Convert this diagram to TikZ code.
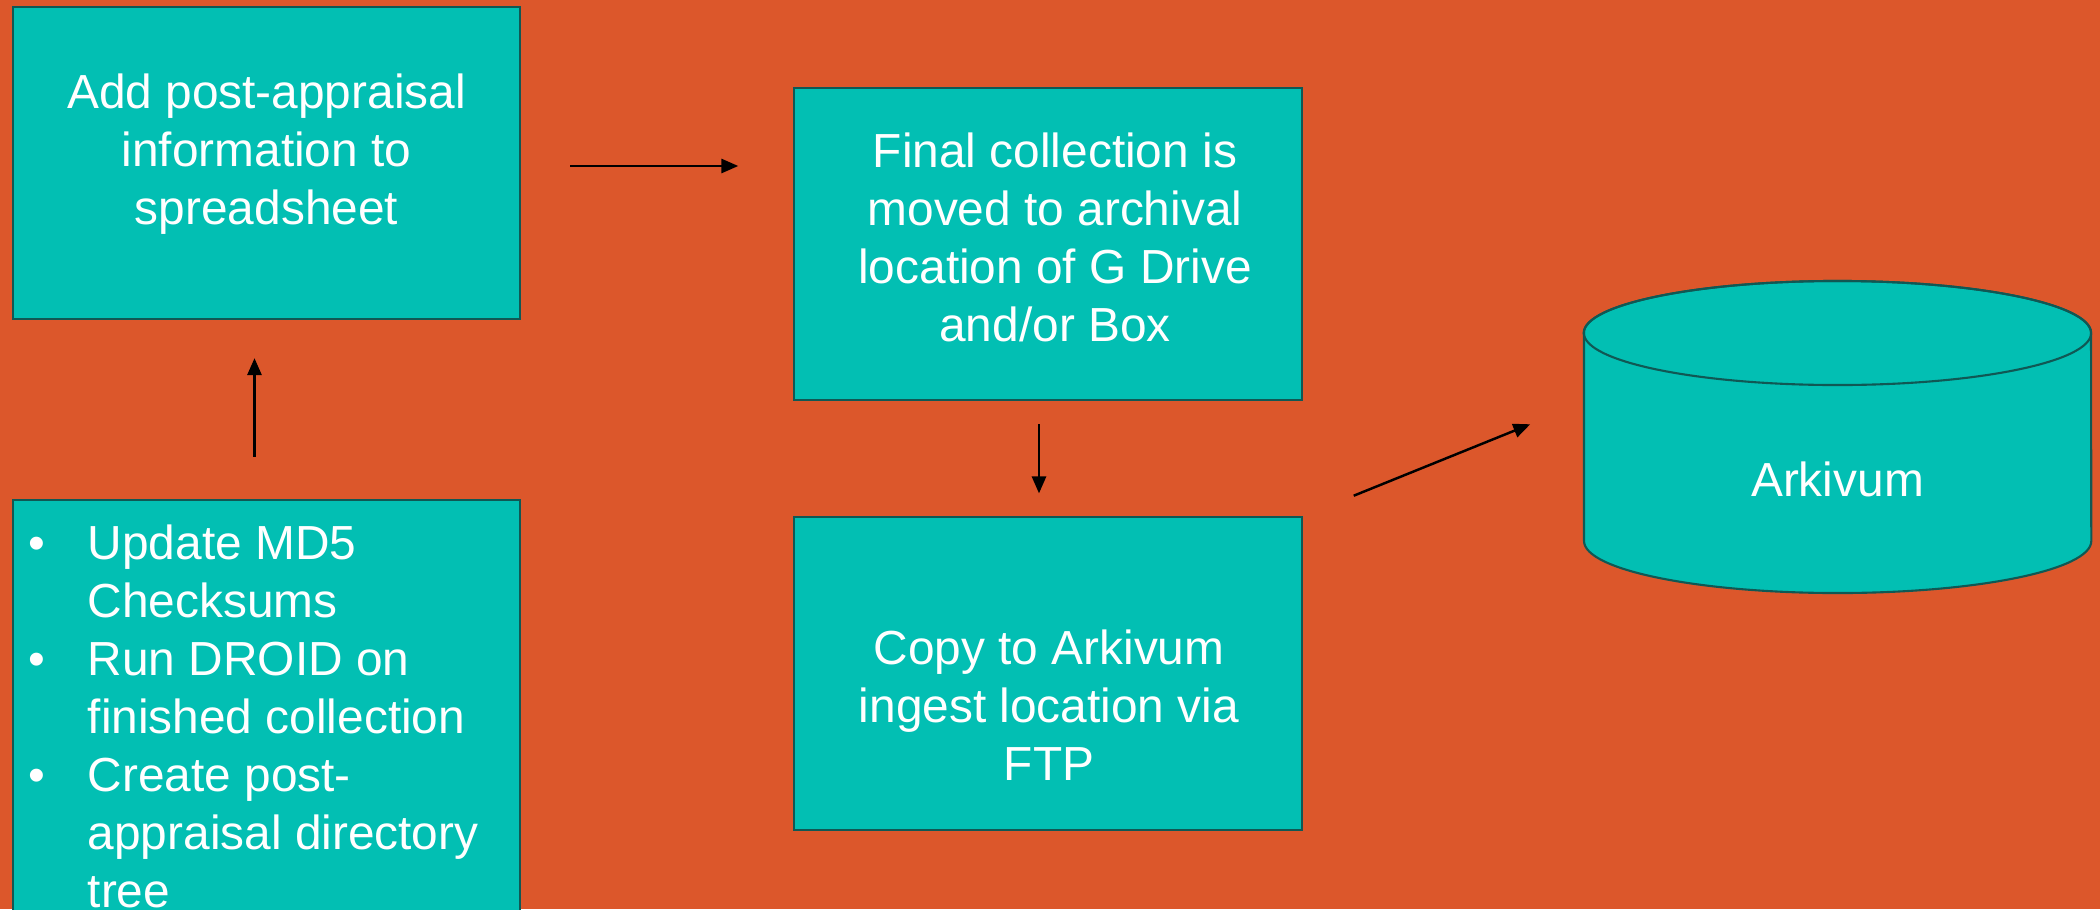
\documentclass[tikz,border=0pt]{standalone}
\usepackage{fontspec}
\setmainfont{Liberation Sans}
\usetikzlibrary{arrows.meta}
\definecolor{bgorange}{RGB}{220,87,43}
\definecolor{boxteal}{RGB}{2,191,179}
\definecolor{edgeteal}{RGB}{16,88,84}

\tikzset{
  box/.style={draw=edgeteal, line width=0.6pt, fill=boxteal,
    minimum width=5.07cm, minimum height=3.12cm, inner sep=0pt},
  txt/.style={text=white, align=center, inner sep=0pt,
    font=\fontsize{13.6pt}{16.5pt}\selectfont},
  arr/.style={-{Triangle[length=4.8pt,width=4pt]}, line width=0.7pt}
}

\begin{document}
\begin{tikzpicture}[x=0.01cm, y=-0.01cm]
    \useasboundingbox (0,0) rectangle (2100,909);
    \fill[bgorange] (0,0) rectangle (2100,909);

    \node[box] (add) at (266.5,163) {};
    \node[box, minimum height=4.6cm] (upd) at (266.5,730) {};
    \node[box] (fin) at (1048,244) {};
    \node[box] (copy) at (1048,673.5) {};

    \node[txt] (addt) at (266.5,154) {Add post-appraisal\\information to\\spreadsheet};
    \node[txt] (fint) at (1055,237.5) {Final collection is\\moved to archival\\location of G Drive\\and/or Box};
    \node[txt] (copyt) at (1049,705) {Copy to Arkivum\\ingest location via\\FTP};
    \node[txt, anchor=north west, align=left] (updt) at (28,518) {%
      \begin{tabular}{@{}p{0.59cm}@{}l@{}}
        \textbullet & Update MD5\\
                    & Checksums\\
        \textbullet & Run DROID on\\
                    & finished collection\\
        \textbullet & Create post-\\
                    & appraisal directory\\
                    & tree
      \end{tabular}};

    % Arkivum store
    \filldraw[draw=edgeteal, fill=boxteal, line width=0.6pt]
      (1584,333) -- (1584,541)
      arc[start angle=180, end angle=360, x radius=2.535cm, y radius=0.52cm]
      -- (2091,333)
      arc[start angle=0, end angle=180, x radius=2.535cm, y radius=0.52cm] -- cycle;
    \draw[edgeteal, line width=0.6pt] (1837.5,333) ellipse [x radius=2.535cm, y radius=0.52cm];
    \node[txt] (ark) at (1837.5,479) {Arkivum};
    \coordinate (arkl) at (1584,402.5);

    \draw[arr, shorten <=0.42cm, shorten >=0.38cm] ([xshift=-0.12cm]upd.north) -- ([xshift=-0.12cm]add.south);
    \draw[arr, shorten <=0.49cm, shorten >=0.55cm] ([yshift=-0.03cm]add.east) -- ([yshift=-0.03cm]add.east -| fin.west);
    \draw[arr, shorten <=0.23cm, shorten >=0.23cm] ([xshift=-0.09cm]fin.south) -- ([xshift=-0.09cm]copy.north);
    \draw[arr, shorten <=0.55cm, shorten >=0.58cm] (copy.north east) -- (arkl);
\end{tikzpicture}
\end{document}
